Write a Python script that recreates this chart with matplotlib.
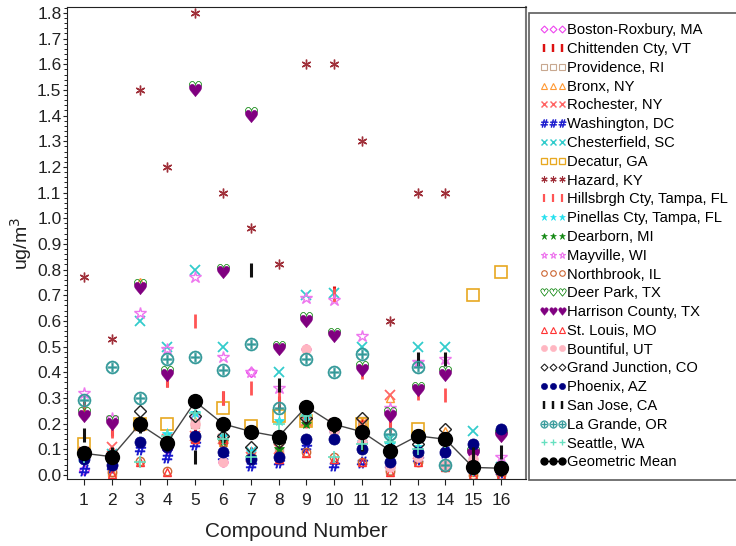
import numpy as np
import matplotlib
matplotlib.use("Agg")
import matplotlib.pyplot as plt
from matplotlib.ticker import MultipleLocator, FormatStrFormatter
from matplotlib.lines import Line2D

plt.rcParams['font.family'] = ['Liberation Sans', 'DejaVu Sans']

nan = np.nan
compounds = list(range(1, 17))

boston       = [0.02, 0.03, 0.19, 0.10, 0.22, 0.05, 0.40, 0.07, 0.49, 0.17, 0.13, 0.05, 0.07, 0.09, 0.08, 0.02]
chittenden   = [0.26, 0.18, 0.20, 0.37, 0.15, 0.30, 0.08, 0.28, 0.22, 0.71, 0.20, 0.20, 0.08, 0.13, 0.05, 0.03]
providence   = [0.09, 0.01, 0.20, 0.12, 0.20, 0.14, 0.08, 0.09, 0.21, 0.18, 0.21, 0.02, 0.08, 0.04, 0.03, 0.02]
bronx        = [0.09, 0.01, 0.75, 0.13, 0.21, 0.13, 0.07, 0.10, 0.21, 0.19, 0.21, 0.30, 0.06, 0.17, 0.01, 0.01]
rochester    = [0.09, 0.11, 0.19, 0.14, 0.15, 0.14, 0.07, 0.10, 0.21, 0.20, 0.20, 0.31, 0.08, 0.14, 0.03, 0.02]
washington   = [0.02, 0.03, 0.10, 0.07, 0.12, 0.07, 0.04, 0.05, 0.11, 0.04, 0.05, 0.04, 0.06, 0.09, 0.02, 0.01]
chesterfield = [0.07, 0.08, 0.60, 0.50, 0.80, 0.50, 0.09, 0.40, 0.70, 0.71, 0.50, 0.14, 0.50, 0.50, 0.17, 0.03]
decatur      = [0.12, nan, 0.20, 0.20, nan, 0.26, 0.19, 0.23, 0.21, nan, 0.20, nan, 0.18, nan, 0.70, 0.79]
hazard       = [0.77, 0.53, 1.50, 1.20, 1.80, 1.10, 0.96, 0.82, 1.60, 1.60, 1.30, 0.60, 1.10, 1.10, nan, nan]
hillsbrgh    = [0.25, 0.17, 0.20, 0.37, 0.60, 0.30, 0.34, 0.30, 0.21, 0.70, 0.40, 0.19, 0.32, 0.31, 0.04, 0.03]
pinellas     = [0.075, 0.08, 0.19, 0.16, 0.24, 0.15, 0.09, 0.21, 0.23, 0.16, 0.13, 0.12, 0.11, 0.14, 0.03, 0.03]
dearborn     = [0.08, 0.07, 0.19, 0.12, 0.15, 0.13, 0.07, 0.10, 0.20, 0.19, 0.12, 0.05, 0.07, 0.04, 0.02, 0.02]
mayville     = [0.32, 0.22, 0.63, 0.49, 0.77, 0.46, 0.40, 0.34, 0.69, 0.68, 0.54, 0.26, 0.44, 0.45, 0.08, 0.07]
northbrook   = [0.08, 0.01, 0.055, 0.015, 0.14, 0.13, 0.07, 0.06, 0.09, 0.07, 0.05, 0.015, 0.05, 0.03, 0.0, 0.0]
deerpark     = [0.24, 0.21, 0.74, 0.40, 1.51, 0.80, 1.41, 0.50, 0.61, 0.55, 0.42, 0.24, 0.34, 0.40, 0.09, 0.16]
harrison     = [0.23, 0.20, 0.73, 0.39, 1.50, 0.79, 1.40, 0.49, 0.60, 0.54, 0.41, 0.23, 0.33, 0.39, 0.08, 0.15]
stlouis      = [0.08, 0.005, 0.05, 0.01, 0.14, 0.14, 0.07, 0.06, 0.085, 0.06, 0.05, 0.01, 0.05, 0.03, 0.0, 0.0]
bountiful    = [0.08, 0.06, 0.19, 0.12, 0.20, 0.05, 0.06, 0.07, 0.49, 0.17, 0.13, 0.03, 0.07, 0.04, 0.06, 0.02]
grandjunc    = [0.08, 0.07, 0.25, 0.12, 0.23, 0.15, 0.11, 0.13, 0.22, 0.19, 0.22, 0.10, 0.12, 0.18, 0.03, 0.02]
phoenix      = [0.06, 0.04, 0.13, 0.11, 0.15, 0.09, 0.06, 0.07, 0.14, 0.14, 0.10, 0.05, 0.09, 0.09, 0.12, 0.18]
sanjose      = [0.155, 0.08, 0.19, 0.12, 0.07, 0.15, 0.80, 0.35, 0.23, 0.19, 0.12, 0.10, 0.45, 0.45, 0.08, 0.09]
lagrande     = [0.29, 0.42, 0.30, 0.45, 0.46, 0.41, 0.51, 0.26, 0.45, 0.40, 0.47, 0.16, 0.42, 0.04, 0.03, 0.03]
seattle      = [0.07, 0.07, 0.05, 0.15, 0.24, 0.14, 0.07, 0.20, 0.23, 0.07, 0.12, 0.13, 0.10, 0.13, 0.02, 0.02]
geomean      = [0.084, 0.071, 0.197, 0.126, 0.286, 0.199, 0.169, 0.149, 0.266, 0.197, 0.168, 0.095, 0.152, 0.139, 0.029, 0.026]

labels = ["Boston-Roxbury, MA", "Chittenden Cty, VT", "Providence, RI", "Bronx, NY",
          "Rochester, NY", "Washington, DC", "Chesterfield, SC", "Decatur, GA",
          "Hazard, KY", "Hillsbrgh Cty, Tampa, FL", "Pinellas Cty, Tampa, FL",
          "Dearborn, MI", "Mayville, WI", "Northbrook, IL", "Deer Park, TX",
          "Harrison County, TX", "St. Louis, MO", "Bountiful, UT",
          "Grand Junction, CO", "Phoenix, AZ", "San Jose, CA", "La Grande, OR",
          "Seattle, WA", "Geometric Mean"]

series = [boston, chittenden, providence, bronx, rochester, washington, chesterfield,
          decatur, hazard, hillsbrgh, pinellas, dearborn, mayville, northbrook,
          deerpark, harrison, stlouis, bountiful, grandjunc, phoenix, sanjose,
          lagrande, seattle, geomean]

# (marker, color, filled, size, edge width, legend size)
styles = [
    ('D', '#ee44ee', False, 5, 1.0, 3.5),
    ('|', '#dd1111', False, 10, 2.2, 6),
    ('s', '#c8a890', False, 6, 1.0, 4),
    ('^', '#ff9933', False, 6, 1.0, 4),
    ('x', '#ff6666', False, 7, 1.3, 4.5),
    ('$\\#$', '#1010cc', True, 8, 0.5, 5.5),
    ('x', '#33cccc', False, 7, 1.3, 4.5),
    ('s', '#e8a820', False, 8, 1.2, 4.5),
    ((6, 2, 0), '#a0303a', False, 7, 1.0, 4.5),
    ('|', '#ff5555', False, 10, 2.0, 6),
    ('*', '#22e0ee', True, 8, 0.5, 5),
    ('*', '#118811', True, 7, 0.5, 5),
    ('*', '#ee77ee', False, 9, 1.0, 5),
    ('o', '#cc6633', False, 6, 1.0, 4),
    ('$\u2661$', '#339933', True, 9, 0.3, 5.5),
    ('$\u2665$', '#800080', True, 9, 0.3, 5.5),
    ('^', '#ff3333', False, 6, 1.0, 4),
    ('o', '#ffb6c1', True, 7, 0.5, 4.5),
    ('D', '#222222', False, 6, 1.0, 3.5),
    ('o', '#000080', True, 8, 0.5, 4.5),
    ('|', '#111111', False, 10, 2.2, 6),
    ('$\\oplus$', '#339999', True, 9.5, 0.3, 5.5),
    ('+', '#66e0c0', False, 8, 1.2, 5),
]

fig = plt.figure(figsize=(7.36, 5.46), dpi=100)
ax = fig.add_axes([67/736, 1-479/546, (526-67)/736, (479-7)/546])

handles = []
for vals, lab, st in zip(series[:-1], labels[:-1], styles):
    m, c, filled, ms, mew, lms = st
    fc = c if filled else 'none'
    ax.plot(compounds, vals, linestyle='none', marker=m, ms=ms, mew=mew,
            color=c, markeredgecolor=c, markerfacecolor=fc)
    handles.append(Line2D([], [], linestyle='none', marker=m, ms=lms, mew=max(mew * 0.8, 0.3),
                          color=c, markeredgecolor=c, markerfacecolor=fc))

ax.plot(compounds, geomean, '-', color='#444444', lw=1.0, marker='o', ms=10,
        markerfacecolor='black', markeredgecolor='black', zorder=5)
handles.append(Line2D([], [], linestyle='-', color='black', lw=1.0, marker='o', ms=5,
                      markerfacecolor='black', markeredgecolor='black'))

ax.set_xlim(0.39, 16.9)
ax.set_ylim(-0.016, 1.823)
ax.set_xticks(compounds)
ax.yaxis.set_major_locator(MultipleLocator(0.1))
ax.yaxis.set_minor_locator(MultipleLocator(0.02))
ax.yaxis.set_major_formatter(FormatStrFormatter('%.1f'))
ax.tick_params(axis='both', labelsize=12.5, colors='#222222', direction='out')
ax.tick_params(axis='y', which='major', length=3, pad=1)
ax.tick_params(axis='y', which='minor', length=2)
ax.tick_params(axis='x', which='major', length=4, pad=6)
for s in ax.spines.values():
    s.set_color('#222222')
ax.spines['right'].set_color('#777777')
ax.spines['right'].set_linewidth(1.5)

ax.set_xlabel("Compound Number", fontsize=15, color='#222222', labelpad=10)
ax.set_ylabel("ug/m$^3$", fontsize=14, color='#222222', labelpad=2)

leg = fig.legend(handles=handles, labels=labels, loc='upper left',
                 bbox_to_anchor=(529/736, 1-13/546), fontsize=10.6,
                 numpoints=3, handlelength=1.85, handletextpad=0.05,
                 labelspacing=0.325, borderpad=0.7, borderaxespad=0,
                 frameon=True, fancybox=False)
leg.get_frame().set_edgecolor('#333333')
leg.get_frame().set_linewidth(1.2)

fig.savefig("out.png", dpi=100)
